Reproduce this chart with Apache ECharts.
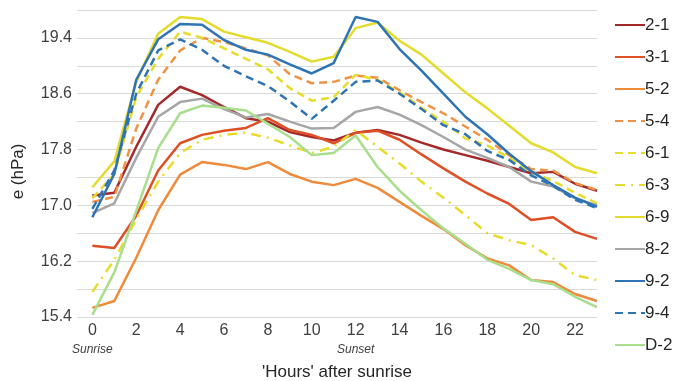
<!DOCTYPE html>
<html>
<head>
<meta charset="utf-8">
<title>e (hPa)</title>
<script src="https://cdn.jsdelivr.net/npm/echarts@6/dist/echarts.min.js"></script>
<style>
  html, body { margin: 0; padding: 0; background: #fff; }
  #chart { width: 676px; height: 381px; }
</style>
</head>
<body>
<div id="chart"></div>
<script>
// hours after sunrise
const hours = [0, 1, 2, 3, 4, 5, 6, 7, 8, 9, 10, 11, 12, 13, 14, 15, 16, 17, 18, 19, 20, 21, 22, 23];

const s21 = [17.14, 17.18, 17.84, 18.44, 18.70, 18.58, 18.41, 18.25, 18.20, 18.05, 17.98, 17.93, 18.04, 18.08, 18.01, 17.90, 17.80, 17.72, 17.64, 17.55, 17.46, 17.48, 17.31, 17.21];
const s31 = [16.42, 16.39, 16.85, 17.50, 17.89, 18.01, 18.07, 18.11, 18.25, 18.08, 18.01, 17.89, 18.04, 18.07, 17.94, 17.73, 17.53, 17.34, 17.17, 17.02, 16.79, 16.83, 16.62, 16.52];
const s52 = [15.53, 15.63, 16.25, 16.93, 17.44, 17.62, 17.58, 17.52, 17.62, 17.45, 17.34, 17.29, 17.38, 17.25, 17.05, 16.85, 16.66, 16.43, 16.24, 16.14, 15.93, 15.90, 15.73, 15.63];
const s54 = [17.05, 17.12, 18.10, 18.80, 19.22, 19.40, 19.34, 19.25, 19.15, 18.88, 18.75, 18.77, 18.86, 18.83, 18.65, 18.48, 18.32, 18.13, 17.94, 17.72, 17.52, 17.50, 17.32, 17.22];
const s61 = [17.10, 17.45, 18.55, 19.10, 19.49, 19.40, 19.25, 19.10, 18.95, 18.68, 18.50, 18.55, 18.87, 18.80, 18.62, 18.40, 18.20, 17.96, 17.86, 17.68, 17.48, 17.35, 17.18, 17.03];
const s63 = [15.76, 16.22, 16.80, 17.34, 17.75, 17.94, 18.01, 18.04, 17.97, 17.86, 17.75, 17.84, 18.08, 17.84, 17.60, 17.34, 17.11, 16.86, 16.60, 16.50, 16.43, 16.24, 16.00, 15.93];
const s69 = [17.26, 17.63, 18.77, 19.46, 19.70, 19.67, 19.49, 19.41, 19.33, 19.20, 19.06, 19.13, 19.54, 19.62, 19.36, 19.16, 18.89, 18.62, 18.39, 18.14, 17.89, 17.76, 17.55, 17.46];
const s82 = [16.89, 17.03, 17.68, 18.27, 18.48, 18.53, 18.38, 18.26, 18.31, 18.20, 18.10, 18.11, 18.34, 18.41, 18.30, 18.15, 17.98, 17.80, 17.68, 17.55, 17.34, 17.27, 17.10, 17.00];
const s92 = [16.83, 17.45, 18.80, 19.38, 19.60, 19.59, 19.37, 19.23, 19.16, 19.02, 18.89, 19.04, 19.70, 19.63, 19.24, 18.93, 18.60, 18.27, 18.02, 17.74, 17.49, 17.29, 17.11, 16.98];
const s94 = [16.95, 17.50, 18.60, 19.22, 19.38, 19.23, 19.00, 18.85, 18.71, 18.49, 18.24, 18.50, 18.77, 18.79, 18.60, 18.38, 18.15, 18.02, 17.78, 17.65, 17.43, 17.28, 17.08, 16.96];
const sD2 = [15.43, 16.04, 16.92, 17.82, 18.32, 18.43, 18.40, 18.36, 18.17, 17.98, 17.72, 17.75, 18.00, 17.55, 17.21, 16.93, 16.67, 16.45, 16.22, 16.09, 15.93, 15.87, 15.69, 15.54];

// axis ticks
const xLabels = [0, 2, 4, 6, 8, 10, 12, 14, 16, 18, 20, 22];
const yLabels = [15.4, 16.2, 17.0, 17.8, 18.6, 19.4];

document.addEventListener('DOMContentLoaded', function () {
    const chart = echarts.init(document.getElementById('chart'));
    const font = "'Liberation Sans', Arial, sans-serif";

    const dash = [8, 5];
    const dashDot = [10, 6, 2, 6];

    const lines = [
        { name: '2-1', data: s21, color: '#a3292b' },
        { name: '3-1', data: s31, color: '#de4f26' },
        { name: '5-2', data: s52, color: '#ee8a3a' },
        { name: '5-4', data: s54, color: '#f09245', type: dash },
        { name: '6-1', data: s61, color: '#e6dc2c', type: dash },
        { name: '6-3', data: s63, color: '#e6dc2c', type: dashDot },
        { name: '6-9', data: s69, color: '#e3db2e' },
        { name: '8-2', data: s82, color: '#a6a6a6' },
        { name: '9-2', data: s92, color: '#2e74b5' },
        { name: '9-4', data: s94, color: '#2e74b5', type: dash },
        { name: 'D-2', data: sD2, color: '#a9de8c' }
    ];

    const option = {
        animation: false,
        grid: { left: 77, right: 79, top: 10, bottom: 64, outerBoundsMode: 'none' },
        legend: {
            orient: 'vertical',
            left: 609,
            top: 10,
            itemWidth: 30,
            itemHeight: 14,
            itemGap: 12,
            itemStyle: { opacity: 0 },
            textStyle: { fontFamily: font, fontSize: 17, color: '#262626', lineHeight: 20, padding: [0, 0, 0, -5] },
            data: lines.map(l => l.name)
        },
        xAxis: {
            type: 'value',
            min: -0.7,
            max: 23,
            name: "'Hours' after sunrise",
            nameLocation: 'middle',
            nameGap: 47,
            nameTextStyle: { fontFamily: font, fontSize: 17, color: '#262626' },
            axisLine: { show: false },
            axisTick: { show: false },
            splitLine: { show: false },
            axisLabel: {
                customValues: xLabels,
                margin: 6,
                fontFamily: font,
                fontSize: 16,
                color: '#404040',
                formatter: function (v) {
                    if (v === 0) return '0\n{s|Sunrise}';
                    if (v === 12) return '12\n{s|Sunset}';
                    return String(v);
                },
                rich: {
                    s: { fontFamily: font, fontSize: 12, fontStyle: 'italic', color: '#404040', padding: [5, 0, 0, 0] }
                }
            }
        },
        yAxis: {
            type: 'value',
            min: 15.4,
            max: 19.8,
            interval: 0.4,
            name: 'e (hPa)',
            nameLocation: 'middle',
            nameGap: 50,
            nameTextStyle: { fontFamily: font, fontSize: 17, color: '#262626', padding: [0, 16, 0, 0] },
            axisLine: { show: false },
            axisTick: { show: false },
            splitLine: { lineStyle: { color: '#d9d9d9', width: 1 } },
            axisLabel: {
                margin: 5,
                fontFamily: font,
                fontSize: 16,
                color: '#404040',
                formatter: function (v) {
                    return yLabels.some(t => Math.abs(t - v) < 1e-6) ? v.toFixed(1) : '';
                }
            }
        },
        series: lines.map(l => ({
            name: l.name,
            type: 'line',
            symbol: 'none',
            data: hours.map((h, i) => [h, l.data[i]]),
            color: l.color,
            lineStyle: { color: l.color, width: 2.5, type: l.type || 'solid' }
        }))
    };

    chart.setOption(option);
});
</script>
</body>
</html>
